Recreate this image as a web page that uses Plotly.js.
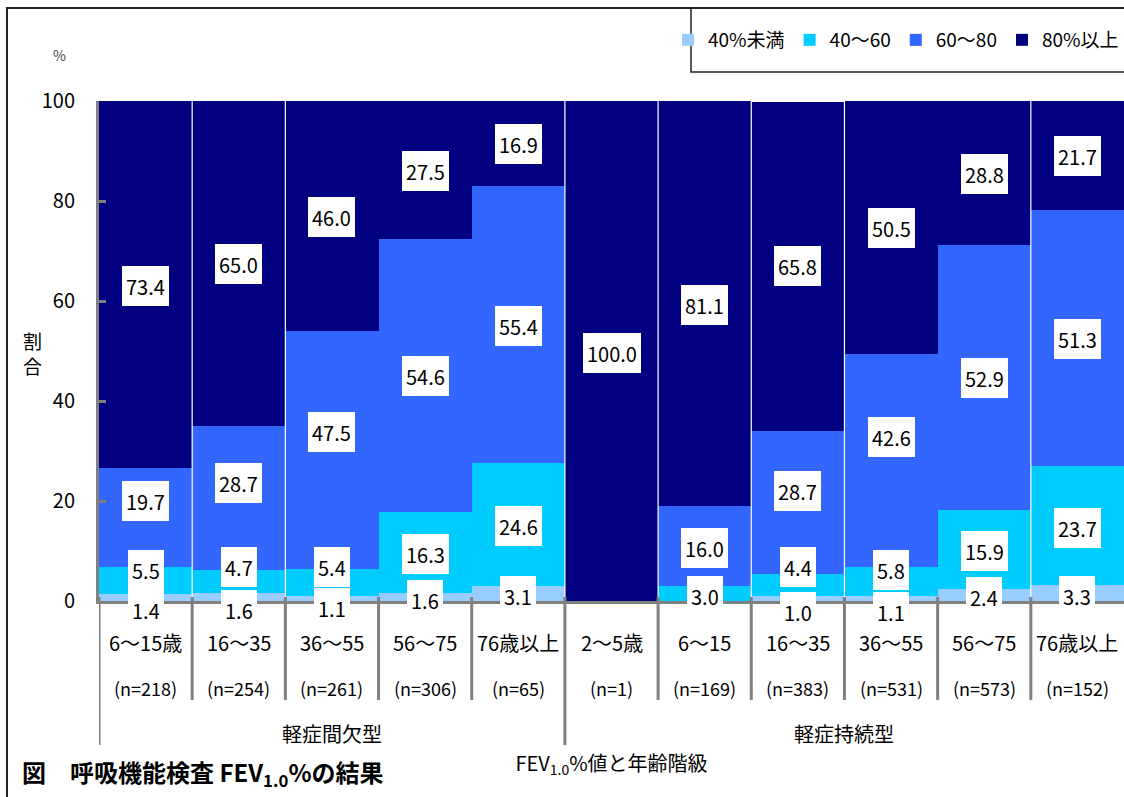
<!DOCTYPE html>
<html>
<head>
<meta charset="utf-8">
<script src="https://cdn.plot.ly/plotly-3.0.1.min.js"></script>
<style>
html, body { margin: 0; padding: 0; background: #ffffff; }
#chart { width: 1124px; height: 797px; }
</style>
</head>
<body>
<div id="chart"></div>
<script>
// ---------------- data ----------------
const seriesNames = ['40%未満', '40〜60', '60〜80', '80%以上'];
const groupNames = ['軽症間欠型', '軽症持続型'];
const groupIndex = [0, 0, 0, 0, 0, 1, 1, 1, 1, 1, 1];
const ageLabels = ['6〜15歳', '16〜35', '36〜55', '56〜75', '76歳以上',
                   '2〜5歳', '6〜15', '16〜35', '36〜55', '56〜75', '76歳以上'];
const nCounts = [218, 254, 261, 306, 65, 1, 169, 383, 531, 573, 152];
const under40 = [1.4, 1.6, 1.1, 1.6, 3.1, 0, 0, 1.0, 1.1, 2.4, 3.3];
const r40to60 = [5.5, 4.7, 5.4, 16.3, 24.6, 0, 3.0, 4.4, 5.8, 15.9, 23.7];
const r60to80 = [19.7, 28.7, 47.5, 54.6, 55.4, 0, 16.0, 28.7, 42.6, 52.9, 51.3];
const over80 = [73.4, 65.0, 46.0, 27.5, 16.9, 100.0, 81.1, 65.8, 50.5, 28.8, 21.7];
const yTicks = [0, 20, 40, 60, 80, 100];

// ---------------- style ----------------
const seriesColors = ['#99CCFF', '#00CCFF', '#3366FF', '#000080'];
const CJK = "'Noto Sans CJK JP', 'Noto Sans', sans-serif";
const GRAY = '#808080';
// pixel nudges of the value labels (positive = up), per series / column
const labelNudge = [
  [-12, -13, -10, -3, -3, 0, 0, -13, -14, -2, -3],
  [10, 14, 15, -2, -2, 0, -2, 18, 11, -2, -3],
  [16, 15, 18, -1, -2, 0, -2, 11, 23, -1, -1],
  [-1, 0, -1, -1, -1, -2, -2, 0, -1, -1, -1]
];
// white hairlines seen between some neighbouring bars
const whiteGapAfter = [0, 1, 4, 5, 6, 7, 9];

// plot area in pixels
const W = 1124, H = 797;
const M = { l: 99, r: 0, t: 101, b: 196 };
const pw = W - M.l - M.r, ph = H - M.t - M.b;
const px2x = p => (p - M.l) / pw;
const py2y = p => (H - M.b - p) / ph;

const values = [under40, r40to60, r60to80, over80];
const xs = ageLabels.map((_, i) => i);

const traces = values.map((vals, k) => ({
  type: 'bar',
  name: seriesNames[k],
  x: xs,
  y: vals,
  marker: { color: seriesColors[k], line: { width: 0 } },
  hovertemplate: '%{y:.1f}<extra>' + seriesNames[k] + '</extra>'
}));

const annotations = [];
// value labels
const cum = xs.map(() => 0);
values.forEach((vals, k) => {
  vals.forEach((v, i) => {
    const base = cum[i];
    cum[i] += v;
    if (v <= 0) return;
    annotations.push({
      x: i, y: base + v / 2, xref: 'x', yref: 'y',
      text: v.toFixed(1), showarrow: false,
      bgcolor: '#ffffff', borderpad: 4, borderwidth: 0, height: 32,
      font: { family: CJK, size: 20, color: '#000000' },
      yshift: labelNudge[k][i]
    });
  });
});
// category labels and n
xs.forEach(i => {
  annotations.push({
    x: i, y: py2y(642), xref: 'x', yref: 'paper', showarrow: false,
    text: ageLabels[i], yanchor: 'middle',
    font: { family: CJK, size: 20, color: '#000000' }
  });
  annotations.push({
    x: i, y: py2y(688), xref: 'x', yref: 'paper', showarrow: false,
    text: '(n=' + nCounts[i] + ')', yanchor: 'middle',
    font: { family: CJK, size: 18, color: '#000000' }
  });
});
// group labels
groupNames.forEach((g, gi) => {
  const members = xs.filter(i => groupIndex[i] === gi);
  const mid = (members[0] + members[members.length - 1]) / 2;
  annotations.push({
    x: mid, y: py2y(733), xref: 'x', yref: 'paper', showarrow: false,
    text: g, yanchor: 'middle',
    font: { family: CJK, size: 20, color: '#000000' }
  });
});
// y title (stacked vertical) and unit
annotations.push({
  x: px2x(32), y: py2y(353), xref: 'paper', yref: 'paper', showarrow: false,
  text: '割<br>合', xanchor: 'center', yanchor: 'middle',
  font: { family: CJK, size: 19, color: '#000000' }
});
annotations.push({
  x: px2x(59), y: py2y(55), xref: 'paper', yref: 'paper', showarrow: false,
  text: '%', xanchor: 'center', yanchor: 'middle',
  font: { family: CJK, size: 14, color: '#444444' }
});

// shapes
const shapes = [];
// outer frame
shapes.push({ type: 'rect', xref: 'paper', yref: 'paper',
  x0: px2x(7), x1: px2x(1135), y0: py2y(805), y1: py2y(8),
  line: { color: '#222222', width: 2 }, fillcolor: 'rgba(0,0,0,0)', layer: 'above' });
// legend box
shapes.push({ type: 'rect', xref: 'paper', yref: 'paper',
  x0: px2x(691), x1: px2x(1135), y0: py2y(72), y1: py2y(8),
  line: { color: '#222222', width: 1.5 }, fillcolor: 'rgba(0,0,0,0)', layer: 'above' });
// white hairlines between some bars
whiteGapAfter.forEach(i => {
  shapes.push({ type: 'line', xref: 'x', yref: 'y',
    x0: i + 0.5, x1: i + 0.5, y0: 0, y1: 100,
    line: { color: '#ffffff', width: 1.2 }, layer: 'above' });
});
// category separators under the axis
for (let b = 0; b <= xs.length - 1; b++) {
  const isGroupEdge = b === 0 || groupIndex[b] !== groupIndex[b - 1];
  shapes.push({ type: 'line', xref: 'x', yref: 'paper',
    x0: b - 0.5, x1: b - 0.5, y0: py2y(597), y1: py2y(isGroupEdge ? 745 : 700),
    line: { color: GRAY, width: 3 }, layer: 'above' });
}

const layout = {
  width: W, height: H,
  margin: { l: M.l, r: M.r, t: M.t, b: M.b, pad: 0, autoexpand: false },
  paper_bgcolor: '#ffffff', plot_bgcolor: '#ffffff',
  barmode: 'stack', bargap: 0,
  font: { family: CJK, size: 20, color: '#000000' },
  title: {
    text: '<b>図　呼吸機能検査 FEV<sub>1.0</sub>%の結果</b>',
    xref: 'container', yref: 'container',
    x: 22 / W, xanchor: 'left', y: 1 - 774 / H, yanchor: 'middle',
    font: { family: CJK, size: 24, color: '#000000' }
  },
  xaxis: {
    range: [-0.5, 10.5], showticklabels: false, ticks: '',
    showline: true, linewidth: 3, linecolor: GRAY,
    showgrid: false, zeroline: false, fixedrange: true,
    title: { text: 'FEV<sub>1.0</sub>%値と年齢階級', standoff: 154,
             font: { family: CJK, size: 20, color: '#000000' } }
  },
  yaxis: {
    range: [0, 100], tickvals: yTicks, ticktext: yTicks.map(String),
    ticks: 'inside', ticklen: 7, tickwidth: 3, tickcolor: GRAY,
    showline: true, linewidth: 3, linecolor: GRAY,
    showgrid: false, zeroline: false, fixedrange: true,
    ticklabelstandoff: 17,
    tickfont: { family: CJK, size: 20, color: '#000000' }
  },
  showlegend: true,
  legend: {
    orientation: 'h', traceorder: 'normal',
    x: 1, y: py2y(40), xanchor: 'right', yanchor: 'middle',
    font: { family: CJK, size: 19, color: '#000000' },
    bgcolor: 'rgba(0,0,0,0)', borderwidth: 0
  },
  shapes: shapes,
  annotations: annotations
};

Plotly.newPlot('chart', traces, layout, { displayModeBar: false });
</script>
</body>
</html>
